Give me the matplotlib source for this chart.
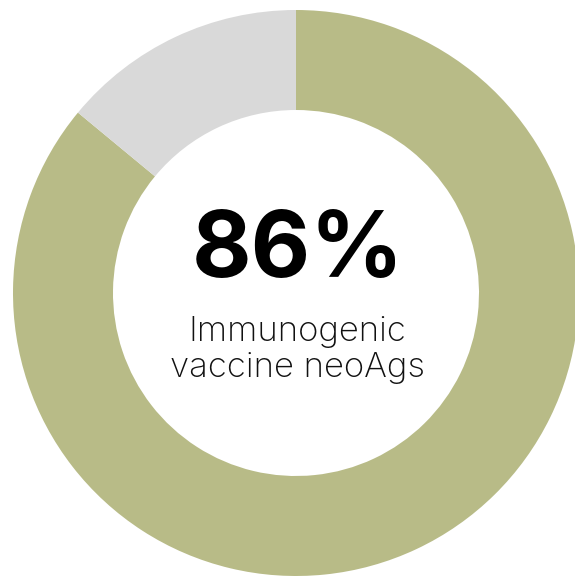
import matplotlib
matplotlib.use("Agg")
import matplotlib.pyplot as plt

labels = ["Immunogenic", "Other"]
values = [86, 14]
colors = ["#b8bb87", "#d9d9d9"]
headline = "86%"
caption = "Immunogenic\nvaccine neoAgs"

W, H = 575, 576
fig = plt.figure(figsize=(W / 100, H / 100), dpi=100)
ax = fig.add_axes([0, 0, 1, 1])

cx, cy, r_out, r_in = 296, H - 293, 283, 183
ax.pie(values, colors=colors, startangle=90, counterclock=False,
       center=(cx, cy), radius=r_out, frame=True,
       wedgeprops=dict(width=r_out - r_in, linewidth=0))
ax.set_xlim(0, W)
ax.set_ylim(0, H)
ax.set_aspect("equal")
ax.axis("off")

ax.text(cx + 2, H - 253, headline, ha="center", va="center",
        fontsize=66, fontweight="bold", family=["Inter", "DejaVu Sans"], color="#000000")
ax.text(cx + 1, H - 350, caption, ha="center", va="center", linespacing=1.2,
        fontsize=25, fontweight="light", family=["Inter", "DejaVu Sans"], color="#111111")

fig.savefig("out.png", dpi=100)
